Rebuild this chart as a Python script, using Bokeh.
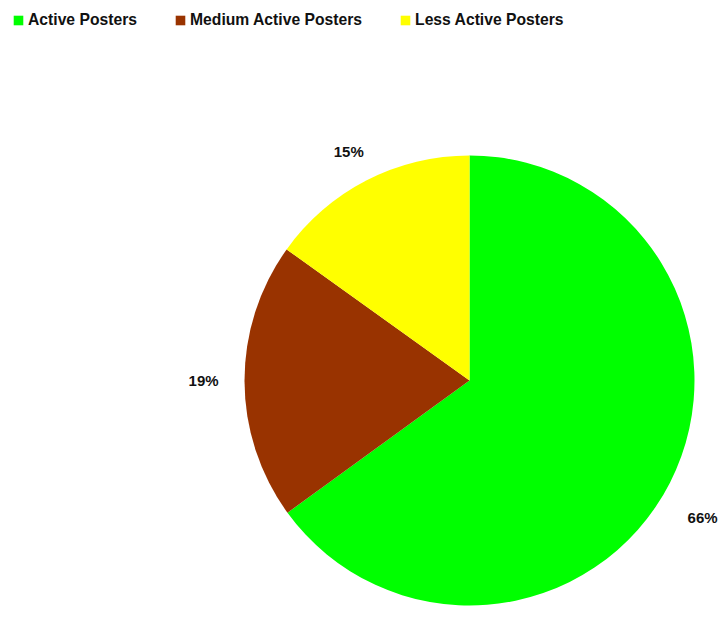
import math
from bokeh.plotting import figure
from bokeh.models import Range1d, Legend, LegendItem, ColumnDataSource
from bokeh.core.properties import value
from bokeh.embed import file_html
from bokeh.resources import INLINE

categories = ["Active Posters", "Medium Active Posters", "Less Active Posters"]
shares = [65.0, 19.9, 15.1]
# percentages as printed on the labels
label_pct = [66, 19, 15]
colors = ["#00ff00", "#993300", "#ffff00"]

W, H = 725, 631
cx, cy, R = 469, 251, 225
LR = 266


def angles(vals):
    tot = sum(vals)
    out, cum = [], 0
    for v in vals:
        a0 = math.pi / 2 - 2 * math.pi * cum / tot
        cum += v
        a1 = math.pi / 2 - 2 * math.pi * cum / tot
        out.append((a0, a1))
    return out


wa = angles(shares)
la = angles(label_pct)
starts = [a[0] for a in wa]
ends = [a[1] for a in wa]
lx = [cx + LR * math.cos((a0 + a1) / 2) for a0, a1 in la]
ly = [cy + LR * math.sin((a0 + a1) / 2) for a0, a1 in la]
labels = [f"{v}%" for v in label_pct]

src = ColumnDataSource(dict(start=starts, end=ends, color=colors, cat=categories,
                            lx=lx, ly=ly, lab=labels))

p = figure(width=W, height=H, output_backend="svg", toolbar_location=None,
           x_range=Range1d(0, W), y_range=Range1d(0, H), min_border=0)
p.axis.visible = False
p.grid.visible = False
p.outline_line_color = None

r = p.wedge(x=cx, y=cy, radius=R, start_angle="start", end_angle="end",
            direction="clock", fill_color="color", line_color=None, source=src)

p.text(x="lx", y="ly", text="lab", source=src, text_align="center",
       text_baseline="top", text_font=value("Liberation Sans"),
       text_font_style="bold", text_font_size="15px", text_color="#111111")

items = [LegendItem(label=c, renderers=[r], index=i) for i, c in enumerate(categories)]
legend = Legend(items=items, orientation="horizontal", location=(12, 601),
                glyph_width=12, glyph_height=12, label_height=20,
                label_standoff=4, spacing=37, padding=0, margin=0,
                border_line_color=None, background_fill_alpha=0,
                label_text_font="Liberation Sans", label_text_font_style="bold",
                label_text_font_size="15.7px", label_text_color="#111111")
p.add_layout(legend)

open("out.html", "w").write(file_html(p, INLINE))
